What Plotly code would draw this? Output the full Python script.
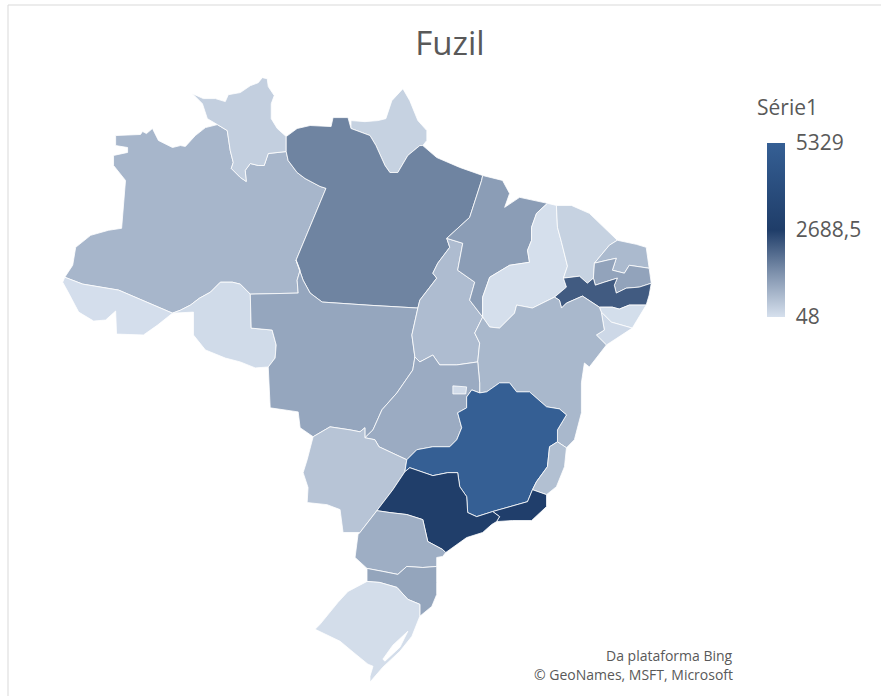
import json
import urllib.parse
import plotly.graph_objects as go

STATES = ["AM","RR","AP","PA","AC","RO","MT","TO","MA","PI","CE","RN","PB","PE","AL","SE","BA",
          "GO","MS","MG","ES","RJ","SP","PR","SC","RS","DF"]
FUZIL = [755,337,290,1592,75,135,1027,655,1183,60,290,697,1078,2226,90,180,727,
         945,523,5329,597,2800,2750,893,1050,100,130]
TICK_VALUES = [48, 2688.5, 5329]
TICK_LABELS = ["48", "2688,5", "5329"]

# Shared state borders (lon, lat)
RR_N=[(-65.40,4.13),(-64.67,3.80),(-63.87,3.80),(-63.20,3.60),(-63.00,4.06),(-62.20,4.20),(-61.53,4.66),(-61.00,4.86),(-60.73,5.20),(-60.40,5.13),(-60.33,4.60),(-59.93,4.00),(-60.13,3.46),(-60.13,2.46),(-59.73,1.80),(-59.13,1.26)]
RR_PA=[(-59.13,1.26),(-59.13,0.26)]
RR_W=[(-65.40,4.13),(-64.73,3.46),(-64.40,2.46),(-63.73,2.06)]
RR_AM=[(-63.73,2.06),(-63.07,1.66),(-62.87,0.33),(-62.67,-0.47),(-62.80,-0.87),(-62.20,-1.47),(-61.80,-1.74),(-61.87,-1.00),(-61.53,-0.54),(-61.00,-0.67),(-60.60,-0.67),(-60.33,0.13),(-59.13,0.26)]
AM_PA=[(-59.13,0.26),(-59.00,-0.34),(-58.40,-1.14),(-57.87,-1.54),(-56.87,-2.07),(-56.47,-2.20),(-58.47,-7.00)]
AM_MT=[(-58.47,-7.00),(-58.20,-7.67),(-58.40,-8.34),(-58.33,-9.20),(-61.53,-9.27)]
MT_PA=[(-58.47,-7.00),(-58.00,-8.34),(-57.53,-9.20),(-56.73,-9.80),(-50.33,-10.20)]
AM_RO=[(-61.53,-9.27),(-62.20,-8.60),(-62.73,-8.47),(-63.53,-8.47),(-64.20,-9.14),(-64.93,-9.54),(-65.53,-10.00),(-66.20,-10.34),(-66.73,-10.54)]
AM_AC=[(-66.73,-10.54),(-70.33,-9.00),(-72.73,-8.60),(-73.93,-8.14)]
AM_N=[(-73.93,-8.14),(-73.40,-7.34),(-73.20,-6.14),(-72.20,-5.34),(-71.00,-5.00),(-70.13,-4.87),(-69.87,-1.67),(-70.67,-0.67),(-70.67,-0.00),(-69.73,0.20),(-69.73,0.53),(-70.53,0.66),(-70.53,1.33),(-68.87,1.40),(-68.73,1.60),(-68.47,1.46),(-68.07,1.80),(-67.67,1.00),(-66.73,0.53),(-66.20,0.66),(-65.87,0.60),(-65.20,1.33),(-64.53,1.86),(-63.73,2.06)]
AC_O=[(-73.93,-8.14),(-74.07,-8.47),(-73.67,-9.20),(-73.00,-10.47),(-72.00,-11.07),(-71.20,-11.00),(-70.53,-10.40),(-70.47,-11.94),(-68.67,-12.00),(-67.73,-11.34),(-66.73,-10.54)]
RO_S=[(-66.73,-10.54),(-65.33,-10.47),(-65.33,-12.00),(-64.53,-13.00),(-63.20,-13.54),(-62.20,-13.80),(-61.20,-14.20),(-60.33,-14.14)]
RO_MT=[(-60.33,-14.14),(-59.87,-13.54),(-59.80,-12.67),(-60.07,-11.67),(-61.47,-11.54),(-61.53,-9.27)]
MT_O=[(-60.33,-14.14),(-60.20,-16.87),(-58.33,-17.14),(-58.20,-18.20),(-57.33,-18.80)]
MT_MS=[(-57.33,-18.80),(-56.20,-18.14),(-54.87,-18.34),(-54.20,-18.47),(-53.87,-18.20),(-53.87,-18.87)]
MT_GO=[(-53.87,-18.87),(-53.33,-18.34),(-52.73,-17.00),(-51.73,-15.87),(-50.67,-14.34),(-50.53,-13.47)]
MT_TO=[(-50.53,-13.47),(-50.73,-12.00),(-50.33,-10.20)]
PA_N=[(-59.13,1.26),(-58.40,1.80),(-57.53,2.00),(-56.13,1.93),(-56.00,2.53),(-55.00,2.53),(-54.80,1.80)]
PA_AP=[(-54.80,1.80),(-53.53,1.33),(-53.13,0.66),(-52.53,-0.67),(-52.20,-1.14),(-51.67,-1.14),(-51.00,0.00),(-50.20,0.66),(-50.00,0.66)]
AP_N=[(-54.80,1.80),(-54.80,2.33),(-53.87,2.26),(-53.00,2.33),(-52.47,2.46),(-52.07,3.66),(-51.33,4.46),(-50.87,3.66),(-50.33,2.33),(-49.73,1.66),(-49.73,1.00),(-50.00,0.66)]
PA_COAST=[(-50.00,0.66),(-49.07,-0.14),(-47.53,-0.80),(-46.00,-1.34)]
PA_MA=[(-46.00,-1.34),(-46.07,-1.67),(-46.87,-4.14),(-48.40,-5.54)]
PA_TO=[(-48.40,-5.54),(-48.20,-6.14),(-49.00,-7.20),(-49.33,-7.87),(-49.07,-8.20),(-50.20,-9.67),(-50.33,-10.20)]
MA_COAST=[(-46.00,-1.34),(-44.67,-1.67),(-44.20,-2.54),(-44.53,-3.47),(-43.53,-2.80),(-41.67,-3.20)]
MA_PI=[(-41.67,-3.20),(-42.40,-3.87),(-42.73,-4.80),(-42.73,-5.67),(-43.00,-6.34),(-42.87,-7.14),(-44.20,-7.34),(-45.53,-8.14),(-46.00,-9.47),(-46.00,-10.80)]
MA_TO=[(-48.40,-5.54),(-47.33,-5.87),(-47.67,-7.67),(-46.53,-8.47),(-46.87,-9.67),(-46.00,-10.80)]
TO_BA=[(-46.00,-10.80),(-46.53,-11.87),(-46.20,-12.54),(-46.33,-13.80)]
TO_GO=[(-46.33,-13.80),(-47.73,-14.00),(-48.87,-14.00),(-49.33,-13.34),(-50.20,-13.80),(-50.53,-13.47)]
GO_BA=[(-46.33,-13.80),(-46.20,-15.20),(-46.20,-15.87)]
GO_MG=[(-46.20,-15.87),(-46.73,-15.67),(-47.07,-16.14),(-47.07,-16.87),(-47.67,-17.20),(-47.40,-18.20),(-47.73,-19.00),(-48.20,-19.47),(-49.33,-19.47),(-50.40,-19.67),(-51.07,-20.34)]
GO_MS=[(-51.07,-20.34),(-52.93,-19.47),(-53.20,-19.00),(-53.87,-18.87)]
MG_MS=[(-51.07,-20.34),(-51.20,-21.14)]
MS_SP=[(-51.20,-21.14),(-52.00,-22.34),(-53.07,-23.74)]
MS_PR=[(-53.07,-23.74),(-54.20,-25.20)]
MS_O=[(-54.20,-25.20),(-55.33,-25.20),(-55.53,-23.67),(-56.40,-23.34),(-57.73,-23.20),(-57.67,-22.20),(-58.00,-21.20),(-57.73,-20.34),(-57.33,-18.80)]
MG_BA=[(-46.20,-15.87),(-45.73,-15.80),(-44.87,-15.20),(-44.20,-15.20),(-43.73,-15.80),(-42.87,-15.80),(-41.73,-16.80),(-40.87,-16.94),(-40.40,-17.34),(-41.00,-18.34),(-41.00,-19.14)]
BA_ES=[(-41.00,-19.14),(-40.40,-19.54)]
MG_ES=[(-41.00,-19.14),(-41.53,-19.47),(-41.67,-20.80),(-42.40,-21.80),(-42.67,-22.34)]
ES_O=[(-40.40,-19.54),(-40.53,-20.80),(-41.07,-22.14),(-41.73,-22.67)]
ES_RJ=[(-41.73,-22.67),(-42.67,-22.34)]
RJ_O=[(-41.73,-22.67),(-41.73,-23.47),(-42.73,-24.40),(-44.00,-24.40),(-45.07,-24.47)]
RJ_SP=[(-45.07,-24.47),(-44.87,-24.14),(-45.33,-23.80)]
MG_RJ=[(-42.67,-22.34),(-43.00,-23.14),(-45.33,-23.80)]
MG_SP=[(-45.33,-23.80),(-46.40,-24.14),(-47.00,-23.87),(-47.07,-22.80),(-47.53,-22.14),(-47.67,-21.20),(-48.33,-21.20),(-49.33,-21.40),(-50.87,-20.87),(-51.20,-21.14)]
SP_COAST=[(-45.07,-24.47),(-45.40,-24.67),(-46.00,-25.20),(-47.07,-25.54),(-48.47,-26.54)]
SP_PR=[(-53.07,-23.74),(-52.20,-23.87),(-51.07,-24.00),(-50.00,-24.34),(-49.67,-25.80),(-48.67,-26.34),(-48.47,-26.54)]
PR_COAST=[(-48.47,-26.54),(-48.67,-26.80),(-49.07,-26.87),(-49.07,-27.47)]
PR_SC=[(-49.07,-27.47),(-50.00,-27.54),(-51.07,-27.47),(-51.67,-28.00),(-52.67,-27.80),(-53.73,-27.60)]
PR_O=[(-53.73,-27.60),(-54.53,-26.87),(-54.33,-25.34),(-54.20,-25.20)]
SC_W=[(-53.73,-27.60),(-53.73,-28.47)]
SC_COAST=[(-49.07,-27.47),(-49.07,-28.54),(-49.07,-29.34),(-49.40,-30.14),(-50.20,-30.80)]
SC_RS=[(-53.73,-28.47),(-52.87,-28.54),(-51.73,-28.87),(-51.00,-29.67),(-50.20,-30.00),(-50.20,-30.80)]
RS_O=[(-50.20,-30.80),(-50.73,-32.14),(-51.53,-33.14),(-52.67,-34.20),(-53.53,-35.20),(-53.53,-34.80),(-53.33,-34.14),(-53.67,-34.00),(-55.53,-32.47),(-57.20,-31.67),(-56.87,-31.34),(-55.67,-29.87),(-55.00,-29.14),(-53.73,-28.47)]
LAGOON=[(-51.00,-31.80),(-51.53,-32.87),(-52.53,-33.80),(-52.67,-33.67),(-52.00,-32.73),(-51.00,-31.80)]
PI_BA=[(-46.00,-10.80),(-45.53,-11.47),(-44.87,-11.54),(-43.87,-10.54),(-43.73,-10.00),(-42.67,-10.20),(-41.20,-9.47)]
PI_COAST=[(-41.67,-3.20),(-41.07,-3.34)]
CE_PI=[(-41.07,-3.34),(-41.00,-4.80),(-40.73,-5.80),(-40.33,-7.40),(-40.60,-8.20)]
PE_PI=[(-40.60,-8.20),(-40.40,-8.80),(-41.20,-9.47)]
CE_COAST=[(-41.07,-3.34),(-40.07,-3.34),(-38.87,-3.87),(-37.00,-5.67)]
CE_RN=[(-37.00,-5.67),(-37.53,-6.00),(-38.53,-7.20)]
CE_PB=[(-38.53,-7.20),(-38.60,-8.20)]
CE_PE=[(-38.60,-8.20),(-39.00,-8.54),(-39.53,-8.07),(-40.60,-8.20)]
RN_COAST=[(-37.00,-5.67),(-35.73,-5.94),(-35.07,-6.14),(-34.87,-7.54)]
RN_PB=[(-34.87,-7.54),(-36.20,-7.34),(-36.53,-7.87),(-37.33,-7.67),(-37.07,-6.87),(-37.67,-7.00),(-38.53,-7.20)]
PB_COAST=[(-34.87,-7.54),(-34.73,-8.54)]
PB_PE=[(-34.73,-8.54),(-35.53,-8.80),(-36.40,-8.87),(-37.07,-9.20),(-37.20,-8.67),(-37.00,-8.20),(-37.87,-8.47),(-38.47,-8.67),(-38.60,-8.20)]
PE_COAST=[(-34.73,-8.54),(-34.87,-9.33),(-35.07,-10.00)]
PE_AL=[(-35.07,-10.00),(-36.20,-10.00),(-36.87,-10.27),(-37.33,-10.14),(-38.20,-10.14)]
PE_BA=[(-38.20,-10.14),(-39.33,-9.40),(-40.40,-9.87),(-40.73,-10.20),(-40.87,-9.67),(-41.20,-9.47)]
AL_BA=[(-38.20,-10.14),(-38.07,-10.47)]
AL_SE=[(-38.07,-10.47),(-37.40,-11.14),(-36.00,-11.54)]
AL_COAST=[(-36.00,-11.54),(-35.07,-10.00)]
BA_SE=[(-38.07,-10.47),(-37.87,-11.67),(-38.40,-12.00),(-37.73,-12.67)]
SE_COAST=[(-37.73,-12.67),(-36.00,-11.54)]
BA_COAST=[(-37.73,-12.67),(-38.87,-14.14),(-39.20,-13.87),(-39.40,-15.20),(-39.40,-17.20),(-39.87,-19.00),(-40.40,-19.54)]
DF_RING=[(-47.99,-15.40),(-47.07,-15.47),(-47.13,-15.94),(-47.99,-15.94),(-47.99,-15.40)]

def R(a):
    return a[::-1]

RINGS = {
 "RR":[RR_N,RR_PA,R(RR_AM),R(RR_W)],
 "AM":[AM_N,RR_AM,AM_PA,AM_MT,AM_RO,AM_AC],
 "PA":[PA_N,PA_AP,PA_COAST,PA_MA,PA_TO,R(MT_PA),R(AM_PA),R(RR_PA)],
 "AP":[AP_N,R(PA_AP)],
 "AC":[AC_O,AM_AC],
 "RO":[RO_S,RO_MT,AM_RO],
 "MT":[R(AM_MT),MT_PA,R(MT_TO),R(MT_GO),R(MT_MS),R(MT_O),RO_MT],
 "MA":[MA_COAST,MA_PI,R(MA_TO),R(PA_MA)],
 "TO":[MA_TO,TO_BA,TO_GO,MT_TO,R(PA_TO)],
 "GO":[R(TO_GO),GO_BA,GO_MG,GO_MS,MT_GO],
 "MS":[MT_MS,R(GO_MS),MG_MS,MS_SP,MS_PR,MS_O],
 "MG":[MG_BA,MG_ES,MG_RJ,MG_SP,R(MG_MS),R(GO_MG)],
 "BA":[TO_BA,GO_BA,MG_BA,BA_ES,R(BA_COAST),R(BA_SE),R(AL_BA),PE_BA,R(PI_BA)],
 "ES":[BA_ES,ES_O,ES_RJ,R(MG_ES)],
 "RJ":[R(ES_RJ),RJ_O,RJ_SP,R(MG_RJ)],
 "SP":[R(MG_SP),R(RJ_SP),SP_COAST,R(SP_PR),R(MS_SP)],
 "PR":[SP_PR,PR_COAST,PR_SC,PR_O,R(MS_PR)],
 "SC":[R(PR_SC),SC_COAST,R(SC_RS),R(SC_W)],
 "RS":[SC_RS,RS_O],
 "PI":[PI_COAST,CE_PI,PE_PI,R(PI_BA),R(MA_PI)],
 "CE":[CE_COAST,CE_RN,CE_PB,CE_PE,R(CE_PI)],
 "RN":[RN_COAST,RN_PB,R(CE_RN)],
 "PB":[R(RN_PB),PB_COAST,PB_PE,R(CE_PB)],
 "PE":[R(PB_PE),PE_COAST,PE_AL,PE_BA,R(PE_PI),R(CE_PE)],
 "AL":[PE_AL,AL_BA,AL_SE,AL_COAST],
 "SE":[R(AL_SE),BA_SE,SE_COAST],
 "DF":[DF_RING],
}
HOLES = {"RS":[LAGOON]}

def join(arcs):
    pts = []
    for a in arcs:
        for p in a:
            if not pts or pts[-1] != p:
                pts.append(p)
    if pts[0] != pts[-1]:
        pts.append(pts[0])
    return pts

def area(r):
    return sum(a[0]*b[1]-b[0]*a[1] for a, b in zip(r, r[1:]))

def wound(r, clockwise=True):
    return r if (area(r) < 0) == clockwise else r[::-1]

features = []
for s in STATES:
    rings = [[list(p) for p in wound(join(RINGS[s]))]]
    for h in HOLES.get(s, []):
        rings.append([list(p) for p in wound(h, False)])
    features.append({"type":"Feature","id":s,"properties":{},"geometry":{"type":"Polygon","coordinates":rings}})
geojson = {"type":"FeatureCollection","features":features}

# Plotly asks for a base world map even when it stays hidden: hand it an empty one, inline.
empty = {"type":"GeometryCollection","geometries":[]}
base_map = {"type":"Topology","arcs":[],"objects":{k:empty for k in
            ["coastlines","land","ocean","lakes","rivers","countries","subunits"]}}
topojson_url = "data:application/json," + urllib.parse.quote(json.dumps(base_map)) + "#"

W, H = 881, 696
fig = go.Figure(go.Choropleth(
    geojson=geojson, locations=STATES, z=FUZIL, featureidkey="id",
    zmin=48, zmax=5329,
    colorscale=[[0,"#D6E0ED"],[0.25,"#7F92AD"],[0.5,"#1F3D69"],[1,"#355F94"]],
    marker=dict(line=dict(color="white", width=0.8)),
    colorbar=dict(
        x=767/W, xanchor="left", y=1-143/H, yanchor="top",
        thickness=18, thicknessmode="pixels", len=174, lenmode="pixels",
        xpad=0, ypad=0, outlinewidth=0, borderwidth=0,
        tickmode="array", tickvals=TICK_VALUES, ticktext=TICK_LABELS,
        ticks="outside", ticklen=7, tickcolor="white", tickwidth=1,
        tickfont=dict(family="Open Sans", size=21, color="#595959"),
    ),
))
fig.update_geos(
    projection_type="equirectangular", visible=False,
    bgcolor="white", showframe=False,
    lonaxis_range=[-74.2,-34.53], lataxis_range=[-35.2,5.27],
    center=dict(lon=-54.365, lat=-14.965),
    domain=dict(x=[60/W, 655/W], y=[1-683/H, 1-76/H]),
)
fig.update_layout(
    width=W, height=H, margin=dict(l=0,r=0,t=0,b=0),
    paper_bgcolor="white", font=dict(family="Open Sans", color="#595959"),
    title=dict(text="Fuzil", x=450/W, xanchor="center", y=1-43/H, yanchor="middle",
               font=dict(family="Open Sans", size=33, color="#595959")),
    shapes=[dict(type="rect", xref="paper", yref="paper", x0=8/W, x1=1.02, y0=-0.02, y1=1-5/H,
                 line=dict(color="#D9D9D9", width=1), layer="below")],
    annotations=[
        dict(text="Série1", xref="paper", yref="paper", x=755/W, y=1-107/H, xanchor="left", yanchor="middle",
             showarrow=False, font=dict(family="Open Sans", size=21, color="#595959")),
        dict(text="Da plataforma Bing", xref="paper", yref="paper", x=735/W, y=1-655/H, xanchor="right", yanchor="middle",
             showarrow=False, font=dict(family="Open Sans", size=14, color="#595959")),
        dict(text="© GeoNames, MSFT, Microsoft", xref="paper", yref="paper", x=735/W, y=1-674/H, xanchor="right", yanchor="middle",
             showarrow=False, font=dict(family="Open Sans", size=14, color="#595959")),
    ],
)
fig.write_html("out.html", config={"topojsonURL": topojson_url, "displayModeBar": False},
               post_script="document.body.style.margin='0';document.body.style.overflow='hidden';")
